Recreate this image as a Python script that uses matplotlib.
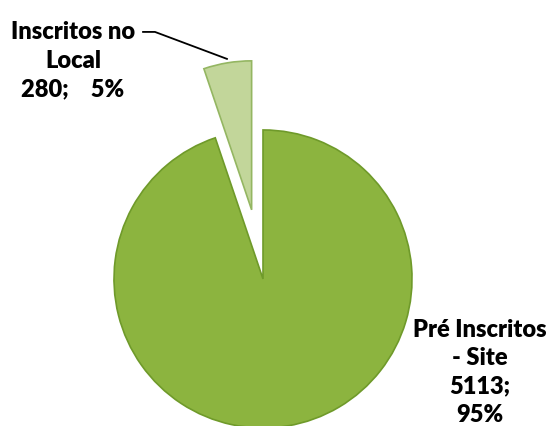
import matplotlib.pyplot as plt

# data
labels = ['Inscritos no\nLocal', 'Pré Inscritos\n- Site']
values = [280, 5113]
colors = ['#c2d69a', '#8cb43f']
explode = [0.47, 0]

fig = plt.figure(figsize=(5.5, 4.27), dpi=100)
ax = fig.add_axes([0, 0, 1, 1])

total = sum(values)
wedges, _ = ax.pie(values, colors=colors, explode=explode, startangle=90,
                   counterclock=True, radius=1,
                   wedgeprops=dict(edgecolor='#6f9a2a', linewidth=1.2))
wedges[0].set_edgecolor('#94b662')

ax.set_xlim(-1.765, 1.926)
ax.set_ylim(-0.987, 1.879)
ax.set_aspect('auto')
ax.axis('off')

font = dict(family='Lato', fontweight='heavy', fontsize=17, color='black',
            ha='center', va='center', linespacing=1.36)

pct = [round(v / total * 100) for v in values]
ax.text(-1.275, 1.47, f"{labels[0]}\n{values[0]};    {pct[0]}%", **font)
ax.text(1.456, -0.62, f"{labels[1]}\n{values[1]};\n{pct[1]}%", **font)

# leader line for small slice
ax.plot([-0.805, -0.725, -0.242], [1.658, 1.658, 1.477], color='black', lw=1.3)

fig.savefig('out.png', dpi=100)
